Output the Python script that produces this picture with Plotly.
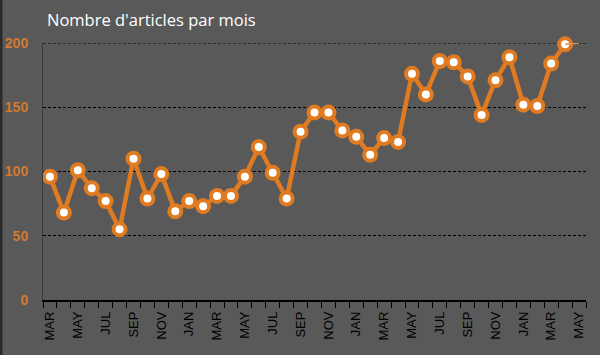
import plotly.graph_objects as go

month_labels = ["MAR", "APR", "MAY", "JUN", "JUL", "AUG", "SEP", "OCT", "NOV", "DEC", "JAN", "FEB",
                "MAR", "APR", "MAY", "JUN", "JUL", "AUG", "SEP", "OCT", "NOV", "DEC", "JAN", "FEB",
                "MAR", "APR", "MAY", "JUN", "JUL", "AUG", "SEP", "OCT", "NOV", "DEC", "JAN", "FEB",
                "MAR", "APR", "MAY"]
articles = [96, 68, 101, 87, 77, 55, 110, 79, 98, 69, 77, 73,
            81, 81, 96, 119, 99, 79, 131, 146, 146, 132, 127, 113,
            126, 123, 176, 160, 186, 185, 174, 144, 171, 189, 152, 151,
            184, 199, 200]
y_ticks = [0, 50, 100, 150, 200]

idx = list(range(len(articles)))
n_full = len(articles) - 1
orange = "#E07B22"
xr = [-0.5, len(articles) - 0.5]

fig = go.Figure()
# last (partial) segment, thin
fig.add_trace(go.Scatter(
    x=idx[n_full - 1:], y=articles[n_full - 1:], mode="lines", xaxis="x2",
    line=dict(color="#D9955A", width=1.5), hoverinfo="skip", showlegend=False,
    cliponaxis=False))
fig.add_trace(go.Scatter(
    x=idx[:n_full], y=articles[:n_full], mode="lines+markers",
    line=dict(color=orange, width=4.5), cliponaxis=False,
    marker=dict(size=12, color="white", line=dict(color=orange, width=4)),
    showlegend=False))

label_idx = idx[::2]
boundaries = [i - 0.5 for i in range(len(articles) + 1)]
fig.update_layout(
    width=600, height=355,
    paper_bgcolor="#595959", plot_bgcolor="#595959",
    margin=dict(l=43, r=14, t=43, b=55, autoexpand=False),
    title=dict(text="Nombre d'articles par mois", xref="container", yref="container",
               x=47 / 600, y=1 - 20 / 355, xanchor="left", yanchor="middle",
               font=dict(family="Open Sans", size=16.5, color="white")),
    # ticks at every month boundary, no labels
    xaxis=dict(range=xr, tickmode="array", tickvals=boundaries,
               ticktext=["" for _ in boundaries], automargin=False,
               ticks="outside", ticklen=6, tickcolor="black", tickwidth=1,
               showgrid=False, zeroline=False,
               showline=True, linecolor="black", linewidth=1.5),
    # labels every other month
    xaxis2=dict(range=xr, overlaying="x", side="bottom", tickmode="array",
                tickvals=label_idx, ticktext=[month_labels[i] for i in label_idx],
                tickangle=-90, ticks="", showgrid=False, zeroline=False, showline=False,
                ticklabelstandoff=8, automargin=False,
                tickfont=dict(family="Arial", size=13, color="black")),
    yaxis=dict(range=[0, 200], tickmode="array", tickvals=y_ticks, automargin=False,
               showgrid=True, gridcolor="black", griddash="3px,2px", gridwidth=1,
               zeroline=False, showline=True, linecolor="#3a3a3a", linewidth=1,
               ticks="", ticklabelstandoff=11,
               tickfont=dict(family="Arial", size=14, color="#D27A2E", weight="bold")),
)
# top gridline (at the edge of the plot area)
fig.add_shape(type="line", xref="paper", yref="y", x0=0, x1=1,
              y0=y_ticks[-1], y1=y_ticks[-1], layer="below",
              line=dict(color="black", width=1, dash="3px,2px"))
fig.add_shape(type="line", xref="paper", yref="paper", x0=-42 / 543, x1=-42 / 543,
              y0=-55 / 257, y1=1 + 43 / 257, line=dict(color="#2a2a2a", width=3))
fig.write_html("out.html", config={"displayModeBar": False},
               post_script="document.body.style.margin='0';")
